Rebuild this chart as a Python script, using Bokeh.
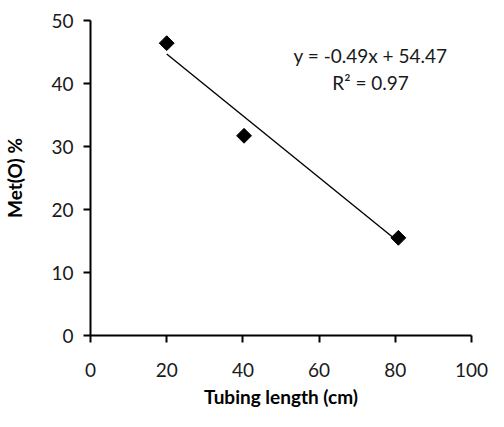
import numpy as np
from bokeh.plotting import figure
from bokeh.models import Range1d, FixedTicker, ColumnDataSource
from bokeh.core.properties import value
from bokeh.embed import file_html
from bokeh.resources import INLINE

# Data
tubing_length = [20, 40.3, 80.8]
met_o = [46.4, 31.7, 15.5]
slope = -0.49
intercept = 54.47
eq_label = "y = -0.49x + 54.47"
r2_label = "R\u00b2 = 0.97"
x_ticks = [0, 20, 40, 60, 80, 100]
y_ticks = [0, 10, 20, 30, 40, 50]

FONT = "Lato"

p = figure(width=488, height=411, output_backend="svg", toolbar_location=None,
           x_range=Range1d(0, 100), y_range=Range1d(0, 50),
           min_border_left=87, min_border_right=17, min_border_top=20,
           min_border_bottom=76)
p.outline_line_color = None
p.xgrid.grid_line_color = None
p.ygrid.grid_line_color = None
p.background_fill_color = "white"
p.border_fill_color = "white"

for ax in (p.xaxis[0], p.yaxis[0]):
    ax.axis_line_width = 2
    ax.axis_line_color = "black"
    ax.major_tick_line_width = 2
    ax.major_tick_line_color = "black"
    ax.major_tick_out = 7
    ax.major_tick_in = 0
    ax.minor_tick_line_color = None
    ax.major_label_text_font = FONT
    ax.major_label_text_font_size = "19px"
    ax.major_label_text_color = "#1a1a1a"
    ax.axis_label_text_font = FONT
    ax.axis_label_text_font_size = "19px"
    ax.axis_label_text_font_style = "bold"
    ax.axis_label_text_color = "black"

p.xaxis[0].ticker = FixedTicker(ticks=x_ticks)
p.yaxis[0].ticker = FixedTicker(ticks=y_ticks)
p.xaxis[0].axis_label = "Tubing length (cm)"
p.yaxis[0].axis_label = "Met(O) %"
p.xaxis[0].major_label_standoff = 20
p.xaxis[0].axis_label_standoff = 5
p.yaxis[0].major_label_standoff = 10
p.yaxis[0].axis_label_standoff = 22

# Trend line
x_fit = np.array([min(tubing_length), max(tubing_length)])
y_fit = slope * x_fit + intercept
p.line(x_fit, y_fit, line_color="black", line_width=1.4)

# Points
src = ColumnDataSource(dict(x=tubing_length, y=met_o))
p.scatter("x", "y", source=src, marker="square", size=10.5, angle=np.pi / 4,
          fill_color="black", line_color="black")

# Annotation
p.text(x=[73.5], y=[44.4], text=[eq_label], text_font=value(FONT),
       text_font_size="19px", text_align="center", text_baseline="alphabetic",
       text_color="#1a1a1a")
p.text(x=[73.5], y=[40.1], text=[r2_label], text_font=value(FONT),
       text_font_size="19px", text_align="center", text_baseline="alphabetic",
       text_color="#1a1a1a")

open("out.html", "w").write(file_html(p, INLINE))
